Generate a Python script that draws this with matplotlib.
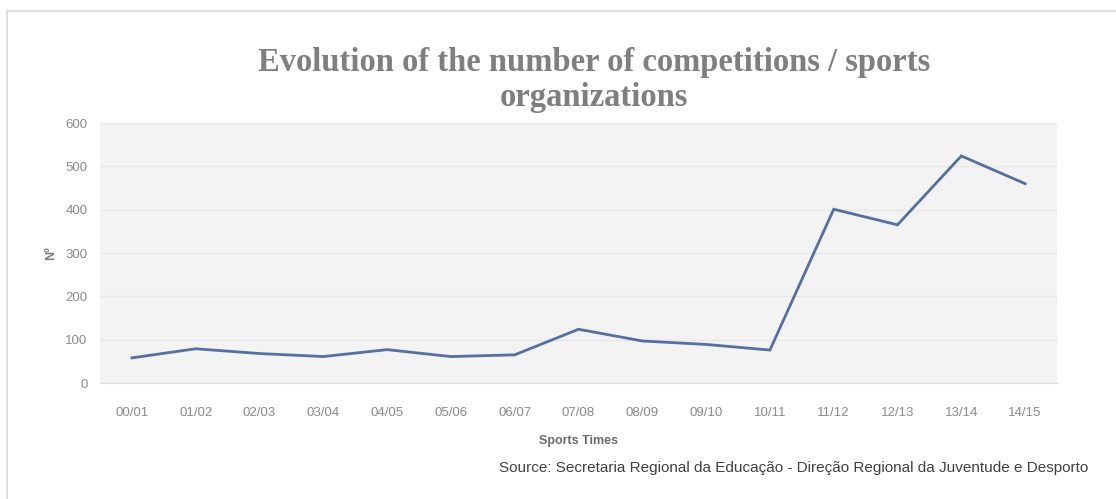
import matplotlib
matplotlib.use('Agg')
from matplotlib import pyplot as plt
from matplotlib.patches import Rectangle

seasons = ['00/01', '01/02', '02/03', '03/04', '04/05', '05/06', '06/07', '07/08',
           '08/09', '09/10', '10/11', '11/12', '12/13', '13/14', '14/15']
competitions = [58, 79, 68, 61, 77, 61, 65, 124, 97, 89, 76, 401, 365, 524, 460]
y_ticks = [0, 100, 200, 300, 400, 500, 600]

tick_grey = '#8a8a8a'
line_blue = '#5570a0'

fig = plt.figure(figsize=(11.16, 4.99), dpi=100)
fig.patch.set_facecolor('white')

# thin frame around the whole chart
fig.patches.append(Rectangle((7 / 1116, -0.05), 1.2, 1 - 11 / 499 + 0.05,
                             transform=fig.transFigure, fill=False,
                             edgecolor='#d9d9d9', linewidth=1.2))

ax = fig.add_axes([100 / 1116, 1 - 383 / 499, 957 / 1116, 260 / 499])
ax.set_facecolor('#f3f3f3')
ax.plot(range(len(seasons)), competitions, color=line_blue, linewidth=2.0,
        solid_joinstyle='miter')

ax.set_xlim(-0.5, len(seasons) - 0.5)
ax.set_ylim(0, 600)
ax.set_yticks(y_ticks)
ax.set_xticks(range(len(seasons)))
ax.set_xticklabels(seasons)
ax.yaxis.grid(True, color='#e8e8e8', linewidth=1)
ax.set_axisbelow(True)
for side in ['top', 'right', 'left']:
    ax.spines[side].set_visible(False)
ax.spines['bottom'].set_color('#dcdcdc')
ax.tick_params(length=0, labelsize=9.5, colors=tick_grey)
ax.tick_params(axis='x', pad=17)
ax.tick_params(axis='y', pad=9)
for lbl in ax.get_xticklabels() + ax.get_yticklabels():
    lbl.set_family('Liberation Sans')

ax.set_ylabel('Nº', fontsize=9, color='#7a7a7a', fontweight='bold',
              family='Liberation Sans', labelpad=6)
ax.set_xlabel('Sports Times', fontsize=9, color='#6a6a6a', fontweight='bold',
              family='Liberation Sans', labelpad=12)

fig.text(594 / 1116, 1 - 80 / 499,
         'Evolution of the number of competitions / sports\norganizations',
         ha='center', va='center', fontsize=23.5, fontweight='bold',
         color='#7f7f7f', family='Liberation Serif', linespacing=1.15)

fig.text(1088 / 1116, 1 - 468 / 499,
         'Source: Secretaria Regional da Educação - Direção Regional da Juventude e Desporto',
         ha='right', va='center', fontsize=11, color='#404040',
         family='Liberation Sans')

fig.savefig('out.png', dpi=100)
